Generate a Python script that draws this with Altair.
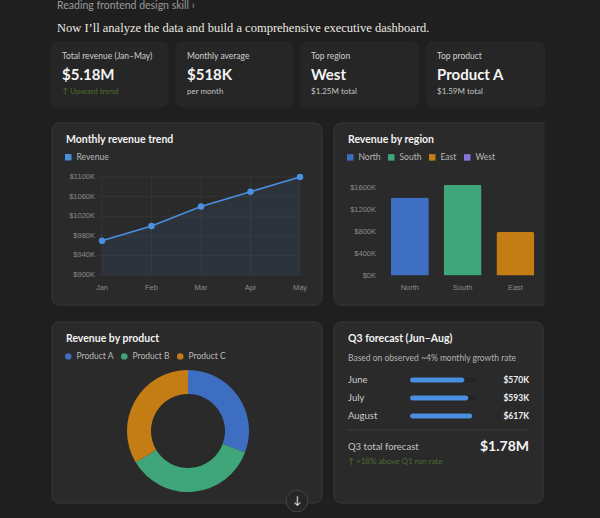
import altair as alt
import pandas as pd

# ---- palette & fonts ----
BG = "#1f1f1f"
KPI_FILL = "#262626"
CARD_FILL = "#2a2a2a"
CARD_STROKE = "#383838"
GRID = "#393939"
BLUE = "#4a8fe0"
AXIS_TXT = "#8c8c8c"
UI = "Lato"
SERIF = "Liberation Serif"
CHART_FONT = "Liberation Sans"

# ---- data ----
months = ["Jan", "Feb", "Mar", "Apr", "May"]
monthly_revenue = [970, 1000, 1040, 1070, 1100]          # $K
trend_ticks = [900, 940, 980, 1020, 1060, 1100]

regions = ["North", "South", "East", "West"]
region_revenue = [1420, 1650, 790, 1250]                  # $K
region_colors = ["#3d6ec2", "#3fa67c", "#c47d14", "#8676dc"]
region_ticks = [0, 400, 800, 1200, 1600]

products = ["Product A", "Product B", "Product C"]
product_revenue = [1590, 1850, 1740]                      # $K
product_colors = ["#3d6ec2", "#3fa67c", "#c47d14"]

forecast_months = ["June", "July", "August"]
forecast_values = [570, 593, 617]                         # $K
forecast_total = "$1.78M"

kpi_titles = ["Total revenue (Jan\u2013May)", "Monthly average", "Top region", "Top product"]
kpi_values = ["$5.18M", "$518K", "West", "Product A"]
kpi_notes = ["\u2191 Upward trend", "per month", "$1.25M total", "$1.59M total"]


def txt(s, x, y, size, color, weight="normal", align="left", font=UI):
    return alt.Chart(pd.DataFrame({"t": [s]})).mark_text(
        align=align, baseline="middle", font=font, fontSize=size,
        fontWeight=weight, color=color
    ).encode(x=alt.value(x), y=alt.value(y), text="t:N")


def card(x0, x1, y0, y1, fill, stroke, r=7):
    return alt.Chart(pd.DataFrame({"k": [0]})).mark_rect(
        fill=fill, stroke=stroke, strokeWidth=1, cornerRadius=r
    ).encode(x=alt.value(x0), x2=alt.value(x1), y=alt.value(y0), y2=alt.value(y1))


def legend(x, y, symbol="square"):
    return alt.Legend(
        title=None, orient="none", legendX=x, legendY=y, direction="horizontal",
        symbolType=symbol, symbolSize=42, symbolOpacity=1, symbolStrokeWidth=0,
        labelColor="#b8b8b8", labelFont=UI, labelFontSize=8.5, labelOffset=4,
        columnPadding=6,
    )


layers = []

# ---- header ----
layers.append(txt("Reading frontend design skill  \u203a", 57, 6, 10.5, "#9a9a9a"))
layers.append(txt("Now I\u2019ll analyze the data and build a comprehensive executive dashboard.",
                  57, 28, 12.5, "#ece9e2", font=SERIF))

# ---- KPI cards ----
kpi_x = [(51, 168), (176, 293), (300, 419), (426, 545)]
for i, (x0, x1) in enumerate(kpi_x):
    layers.append(card(x0, x1, 42, 107, KPI_FILL, KPI_FILL, 6))
    layers.append(txt(kpi_titles[i], x0 + 11, 56, 8.5, "#cfcfcf"))
    layers.append(txt(kpi_values[i], x0 + 11, 75, 15, "#f4f4f4", weight="bold"))
    note_color = "#4f6b2e" if i == 0 else "#c4c4c4"
    layers.append(txt(kpi_notes[i], x0 + 11, 92, 8, note_color))

# ---- chart cards ----
layers.append(card(52, 322, 123, 305, CARD_FILL, CARD_STROKE))
layers.append(card(334, 560, 123, 305, CARD_FILL, CARD_STROKE))
layers.append(card(52, 322, 322, 503, CARD_FILL, CARD_STROKE))
layers.append(card(334, 543, 322, 503, CARD_FILL, CARD_STROKE))

# ---- monthly revenue trend ----
trend_df = pd.DataFrame({"month": months, "revenue": monthly_revenue, "series": "Revenue"})
trend_tick_df = pd.DataFrame({"revenue": trend_ticks,
                              "label": [f"${v}K" for v in trend_ticks]})
tx = alt.X("month:N", sort=months, axis=None,
           scale=alt.Scale(type="point", range=[102, 300], padding=0))
ty = alt.Y("revenue:Q", axis=None, scale=alt.Scale(domain=[900, 1100], range=[275, 177]))

trend = alt.layer(
    alt.Chart(trend_tick_df).mark_rule(color=GRID, strokeWidth=0.7).encode(
        y=ty, x=alt.value(97), x2=alt.value(300)),
    alt.Chart(trend_df).mark_rule(color=GRID, strokeWidth=0.7).encode(
        x=tx, y=alt.value(177), y2=alt.value(275)),
    alt.Chart(trend_df).mark_area(color=BLUE, opacity=0.09).encode(
        x=tx, y=ty, y2=alt.Y2Datum(900)),
    alt.Chart(trend_df).mark_line(color=BLUE, strokeWidth=1.6).encode(x=tx, y=ty),
    alt.Chart(trend_df).mark_circle(size=42, opacity=1).encode(
        x=tx, y=ty,
        color=alt.Color("series:N", scale=alt.Scale(domain=["Revenue"], range=[BLUE]),
                        legend=legend(64, 153))),
    alt.Chart(trend_tick_df).mark_text(align="right", baseline="middle", font=CHART_FONT,
                                       fontSize=7.5, color=AXIS_TXT).encode(
        y=ty, x=alt.value(95), text="label:N"),
    alt.Chart(trend_df).mark_text(baseline="middle", font=CHART_FONT,
                                  fontSize=7.5, color=AXIS_TXT).encode(
        x=tx, y=alt.value(288), text="month:N"),
)
layers.append(trend)
layers.append(txt("Monthly revenue trend", 66, 140, 10.5, "#f2f2f2", weight="bold"))

# ---- revenue by region ----
region_df = pd.DataFrame({"region": regions, "rev": region_revenue})
region_tick_df = pd.DataFrame({"rev": region_ticks,
                               "label": [f"${v}K" for v in region_ticks]})
rx = alt.X("region:N", sort=regions, axis=None,
           scale=alt.Scale(type="band", range=[383.5, 594.5], paddingInner=0.28, paddingOuter=0.14))
ry = alt.Y("rev:Q", axis=None, scale=alt.Scale(domain=[0, 1600], range=[275.5, 187.5]))

region_chart = alt.layer(
    alt.Chart(region_df).mark_bar(cornerRadiusTopLeft=2, cornerRadiusTopRight=2).encode(
        x=rx, y=ry,
        color=alt.Color("region:N", sort=regions,
                        scale=alt.Scale(domain=regions, range=region_colors),
                        legend=legend(346, 153))),
    alt.Chart(region_tick_df).mark_text(align="right", baseline="middle", font=CHART_FONT,
                                        fontSize=7.5, color=AXIS_TXT).encode(
        y=ry, x=alt.value(376), text="label:N"),
    alt.Chart(region_df).mark_text(baseline="middle", font=CHART_FONT,
                                   fontSize=7.5, color=AXIS_TXT).encode(
        x=rx, y=alt.value(288), text="region:N"),
)
layers.append(region_chart)
layers.append(txt("Revenue by region", 348, 140, 10.5, "#f2f2f2", weight="bold"))
# the page edge cuts the region card on the right
layers.append(alt.Chart(pd.DataFrame({"k": [0]})).mark_rect(fill=BG).encode(
    x=alt.value(544.5), x2=alt.value(600), y=alt.value(112), y2=alt.value(316)))

# ---- revenue by product (donut) ----
product_df = pd.DataFrame({"product": products, "rev": product_revenue})
donut = alt.Chart(product_df).mark_arc(innerRadius=37, outerRadius=61).encode(
    theta=alt.Theta("rev:Q", stack=True),
    color=alt.Color("product:N", sort=products,
                    scale=alt.Scale(domain=products, range=product_colors),
                    legend=legend(64, 352, "circle")),
    x=alt.value(188), y=alt.value(431),
)
layers.append(donut)
layers.append(txt("Revenue by product", 66, 339, 10.5, "#f2f2f2", weight="bold"))

# ---- Q3 forecast ----
fc_df = pd.DataFrame({"m": forecast_months, "v": forecast_values,
                      "label": [f"${v}K" for v in forecast_values]})
fy = alt.Y("m:N", sort=forecast_months, axis=None,
           scale=alt.Scale(type="point", range=[380, 416], padding=0))
fx = alt.X("v:Q", axis=None, scale=alt.Scale(domain=[250, 650], range=[410, 478]))

forecast = alt.layer(
    alt.Chart(fc_df).mark_bar(height=5, cornerRadius=2.5, color="#242424").encode(
        y=fy, x=alt.value(410), x2=alt.value(476)),
    alt.Chart(fc_df).mark_bar(height=5, cornerRadius=2.5, color=BLUE).encode(
        y=fy, x=fx, x2=alt.X2Datum(250)),
    alt.Chart(fc_df).mark_text(align="left", baseline="middle", font=UI,
                               fontSize=9.5, color="#cacaca").encode(
        y=fy, x=alt.value(348), text="m:N"),
    alt.Chart(fc_df).mark_text(align="right", baseline="middle", font=UI,
                               fontSize=8.5, fontWeight="bold", color="#f0f0f0").encode(
        y=fy, x=alt.value(529), text="label:N"),
)
layers.append(forecast)
layers.append(txt("Q3 forecast (Jun\u2013Aug)", 348, 339, 10.5, "#f2f2f2", weight="bold"))
layers.append(txt("Based on observed ~4% monthly growth rate", 348, 358, 8.5, "#b3b3b3"))
layers.append(alt.Chart(pd.DataFrame({"k": [0]})).mark_rule(color="#3c3c3c", strokeWidth=1).encode(
    x=alt.value(348), x2=alt.value(528), y=alt.value(430)))
layers.append(txt("Q3 total forecast", 348, 447, 9.5, "#c4c4c4"))
layers.append(txt(forecast_total, 529, 447, 14, "#f4f4f4", weight="bold", align="right"))
layers.append(txt("\u2191 +18% above Q1 run rate", 348, 462, 8, "#4f6b2e"))

# ---- scroll button ----
layers.append(alt.Chart(pd.DataFrame({"k": [0]})).mark_circle(
    size=470, fill="#262626", stroke="#444444", strokeWidth=1, opacity=1).encode(
    x=alt.value(297), y=alt.value(501)))
layers.append(txt("\u2193", 297, 501, 11, "#e8e8e8", align="center"))

chart = alt.layer(*layers).resolve_scale(
    x="independent", y="independent", color="independent", theta="independent"
).properties(
    width=600, height=518, padding=0, background=BG,
    autosize=alt.AutoSizeParams(type="none"),
).configure_view(strokeWidth=0)

chart.save("out.html", embed_options={"renderer": "svg", "actions": False})
